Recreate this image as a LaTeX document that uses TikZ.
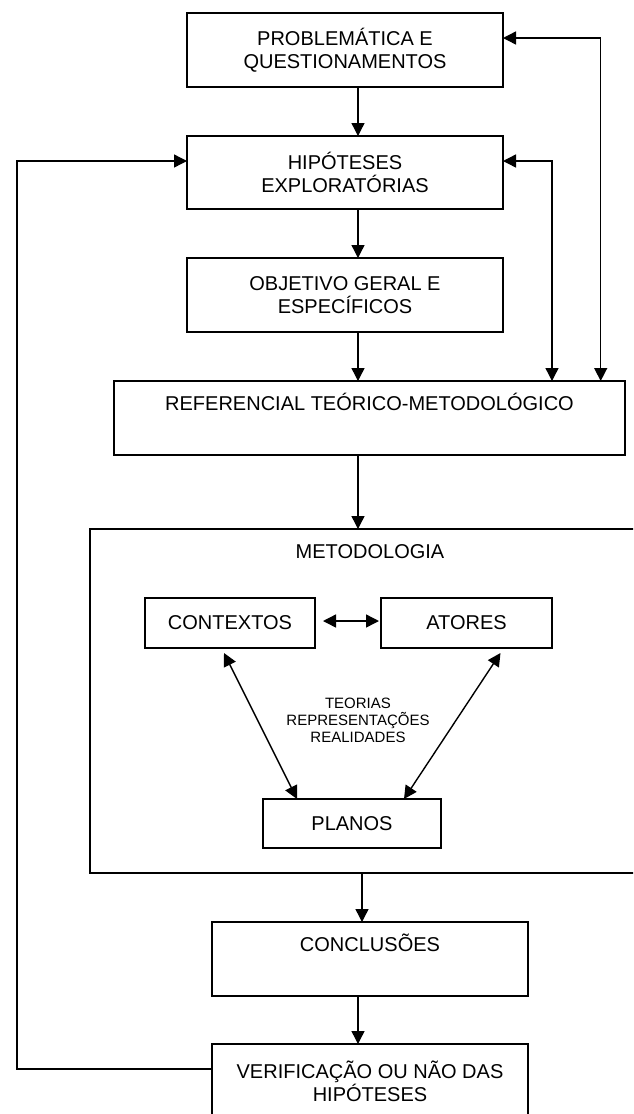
\documentclass[tikz,border=0pt]{standalone}
\usepackage{fontspec}
\setmainfont{Liberation Sans}
\usetikzlibrary{arrows.meta}
\begin{document}
\begin{tikzpicture}[x=1pt,y=-1pt,
  box/.style={draw, line width=1.7pt, inner sep=0pt, outer sep=0pt, align=center,
    font=\fontsize{20}{23}\selectfont},
  topbox/.style={box, text height=29pt, text depth=45pt},
  tip/.tip={Triangle[length=13pt,width=13pt]},
  arr/.style={line width=1.4pt, -tip},
  dbl/.style={line width=1.4pt, tip-tip},
  note/.style={align=center, inner sep=0pt, font=\fontsize{15}{17}\selectfont}]
\clip (0,0) rectangle (633,1114);
\fill[white] (0,0) rectangle (633,1114);

% main column
\node[box, minimum width=316pt, minimum height=74pt] (prob) at (345,50) {PROBLEMÁTICA E\\QUESTIONAMENTOS};
\node[box, minimum width=316pt, minimum height=73pt] (hip) at (345,172.5) {HIPÓTESES\\EXPLORATÓRIAS};
\node[box, minimum width=316pt, minimum height=74pt] (obj) at (345,295) {OBJETIVO GERAL E\\ESPECÍFICOS};
\node[topbox, minimum width=511pt] (ref) at (369.5,418) {REFERENCIAL TEÓRICO-METODOLÓGICO};
\node[topbox, line width=2.2pt, minimum width=560pt, text depth=315pt] (met) at (370,701) {METODOLOGIA};
\node[topbox, minimum width=316pt] (con) at (370,959) {CONCLUSÕES};
\node[box, minimum width=316pt, minimum height=74pt] (ver) at (370,1081) {VERIFICAÇÃO OU NÃO DAS\\HIPÓTESES};

% inside the methodology frame
\node[box, minimum width=170pt, minimum height=50pt] (ctx) at (230,623) {CONTEXTOS};
\node[box, minimum width=171pt, minimum height=50pt] (atr) at (466.5,623) {ATORES};
\node[box, minimum width=178pt, minimum height=49pt] (pla) at (352,823.5) {PLANOS};
\node[note] (teo) at (358,720) {TEORIAS\\REPRESENTAÇÕES\\REALIDADES};

% vertical flow
\coordinate (ax) at (358,0);
\coordinate (bx) at (362,0);
\draw[arr] (prob.south -| ax) -- (hip.north -| ax);
\draw[arr] (hip.south -| ax) -- (obj.north -| ax);
\draw[arr] (obj.south -| ax) -- (ref.north -| ax);
\draw[arr] (ref.south -| ax) -- (met.north -| ax);
\draw[arr] (met.south -| bx) -- (con.north -| bx);
\draw[arr] (con.south -| ax) -- (ver.north -| ax);

% feedback loops
\coordinate (fbA) at (552,161);
\coordinate (fbB) at (600.7,38);
\coordinate (fbL) at (17,1069);
\draw[dbl] (hip.east |- fbA) -| (ref.north -| fbA);
\draw[dbl] (prob.east |- fbB) -| (ref.north -| fbB);
\draw[arr] (ver.west |- fbL) -| (fbL |- fbA) -- (hip.west |- fbA);

% relations among contexts, actors and plans
\draw[dbl, shorten <=8pt, shorten >=2pt] ([yshift=2pt]ctx.east) -- ([yshift=2pt]atr.west);
\draw[dbl] ([xshift=-6pt,yshift=-5pt]ctx.south) -- ([xshift=-55pt]pla.north);
\draw[dbl] ([xshift=34pt,yshift=-5pt]atr.south) -- ([xshift=52pt]pla.north);
\end{tikzpicture}
\end{document}
